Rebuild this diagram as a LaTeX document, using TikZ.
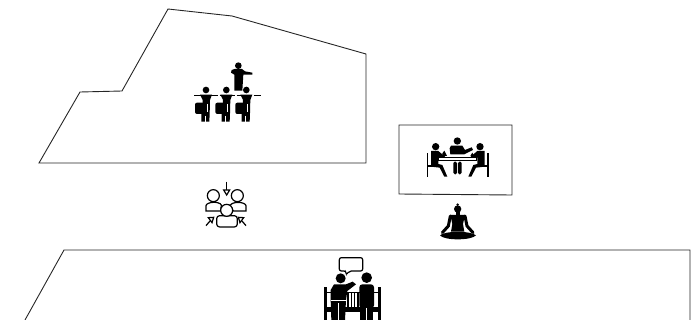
\documentclass[tikz,border=0pt]{standalone}
\usepackage{tikz}
\tikzset{
  roomline/.style={draw=black!85, line width=0.9pt, line join=miter},
  figfill/.style={fill=black, draw=none},
  figline/.style={draw=black, line width=1.2pt, fill=white},
  student/.pic={
    \fill[figfill] (0,0) circle (10);
    \fill[figfill] (-18,14) -- (18,14) -- (12,30) -- (11,70) -- (10,95) -- (-14,95) -- (-14,70) -- (-10,38) -- (-10,30) -- cycle;
    \fill[figfill, rounded corners=2pt] (-33,38) rectangle (-3,72);
    \draw[white, line width=0.7pt] (3,42) -- (3,66);
    \draw[white, line width=0.7pt] (-2,78) -- (-2,95);
  },
  tablesitter/.pic={
    \fill[figfill] (0,0) circle (11);
    \fill[figfill] (-14,13) -- (8,13) -- (28,30) -- (28,37) -- (8,33) -- (8,52) -- (20,55) -- (35,90) -- (26,90) -- (12,63) -- (-14,60) -- cycle;
    \fill[figfill] (-27,20) rectangle (-22,90);
    \fill[figfill] (-27,55) rectangle (-10,60);
  }
}
\begin{document}
\begin{tikzpicture}[x=1pt, y=-1pt]
  \useasboundingbox (0,0) rectangle (700,320);
  % rooms
  \draw[roomline] (39,163) -- (80,92) -- (122,91) -- (168,9) -- (232,16) -- (366,54) -- (366,163) -- cycle;
  \draw[roomline] (399,125) -- (512,125) -- (512,195) -- (399,194) -- cycle;
  \draw[roomline] (25,320) -- (64,250) -- (690,250) -- (690,320);
  % lecture
  \begin{scope}[shift={(180,50)}, x=0.3333pt, y=-0.3333pt]
    \fill[figfill] (175,47) circle (10);
    \fill[figfill] (164,57) -- (186,57) -- (195,64) -- (217,68) -- (217,74) -- (190,74) -- (187,122) -- (163,122) -- (163,74) -- (153,68) -- (155,60) -- cycle;
    \pic at (78,120) {student};
    \pic at (139,120) {student};
    \pic at (199,120) {student};
    \draw[black, line width=0.9pt, dash pattern=on 7pt off 1.5pt] (42,137) -- (245,137);
  \end{scope}
  % group
  \begin{scope}[shift={(180,175)}, x=0.3333pt, y=-0.3333pt]
    \draw[figline] (78,108) -- (78,92) .. controls (80,80) and (118,78) .. (124,90) -- (122,108) -- cycle;
    \draw[figline] (100,62) circle (18);
    \draw[figline] (150,92) .. controls (156,78) and (196,80) .. (198,92) -- (198,108) -- (160,108) -- cycle;
    \draw[figline] (172,62) circle (18);
    \draw[figline, rounded corners=3pt] (110,122) -- (172,122) -- (172,156) -- (110,156) -- cycle;
    \draw[figline] (140,106) circle (18);
    \draw[black, line width=1.2pt] (140,20) -- (140,45);
    \draw[figline] (131,45) -- (149,45) -- (140,60) -- cycle;
    \draw[black, line width=1.2pt] (78,152) -- (90,138);
    \draw[figline] (85,128) -- (101,127) -- (96,143) -- cycle;
    \draw[black, line width=1.2pt] (198,152) -- (186,138);
    \draw[figline] (191,128) -- (175,127) -- (180,143) -- cycle;
  \end{scope}
  % table
  \begin{scope}[shift={(395,120)}, x=0.3333pt, y=-0.3333pt]
    \fill[figfill] (187,63) circle (11);
    \fill[figfill] (168,77) -- (202,77) -- (210,90) -- (230,82) -- (234,90) -- (208,103) -- (166,103) -- (164,85) -- cycle;
    \pic at (122,80) {tablesitter};
    \begin{scope}[shift={(255,80)}, x=-0.3333pt]
      \pic at (0,0) {tablesitter};
    \end{scope}
    \fill[figfill] (130,110) rectangle (245,122);
    \fill[white] (133,113) rectangle (242,119);
    \fill[figfill] (142,100) -- (148,92) -- (156,108) -- (142,108) -- cycle;
    \fill[figfill] (226,108) -- (232,98) -- (238,108) -- cycle;
    \fill[figfill, rounded corners=1.5pt] (175,125) rectangle (186,163);
    \fill[figfill, rounded corners=1.5pt] (189,125) rectangle (200,163);
    % meditating
    \fill[figfill] (188,267) circle (11);
    \fill[figfill] (188,254) circle (4);
    \fill[figfill] (182,276) rectangle (194,286);
    \fill[figfill] (166,285) -- (210,285) -- (204,312) -- (208,335) -- (168,335) -- (172,312) -- cycle;
    \draw[black, line width=3pt, line cap=round] (166,288) -- (160,318) -- (142,338);
    \draw[black, line width=3pt, line cap=round] (210,288) -- (216,318) -- (234,338);
    \fill[figfill] (135,346) .. controls (150,332) and (226,332) .. (243,346) .. controls (230,362) and (146,362) .. (135,346) -- cycle;
  \end{scope}
  % bench
  \begin{scope}[shift={(310,245)}, x=0.3333pt, y=-0.3333pt]
    \draw[figline, rounded corners=2pt] (88,38) -- (158,38) -- (158,78) -- (118,78) -- (108,90) -- (108,78) -- (88,78) -- cycle;
    \fill[figfill] (42,125) rectangle (50,225);
    \fill[figfill] (204,125) rectangle (212,225);
    \fill[figfill] (42,185) rectangle (212,200);
    \fill[figfill] (50,140) rectangle (204,145);
    \foreach \barx in {112,122,132,142} {
      \fill[figfill] (\barx,140) rectangle (\barx+4,188);
    }
    \fill[figfill] (92,100) circle (15);
    \fill[figfill] (170,98) circle (16);
    \fill[figfill] (72,118) -- (108,118) -- (128,110) -- (138,118) -- (112,138) -- (108,165) -- (105,225) -- (64,225) -- (62,165) -- (62,135) -- cycle;
    \fill[figfill, rounded corners=3pt] (148,118) rectangle (192,190);
    \fill[figfill] (150,180) rectangle (190,225);
    \draw[white, line width=0.7pt] (85,175) -- (85,225);
    \draw[white, line width=0.7pt] (170,190) -- (170,225);
    \draw[white, line width=0.7pt] (62,165) -- (108,165);
  \end{scope}
\end{tikzpicture}
\end{document}
